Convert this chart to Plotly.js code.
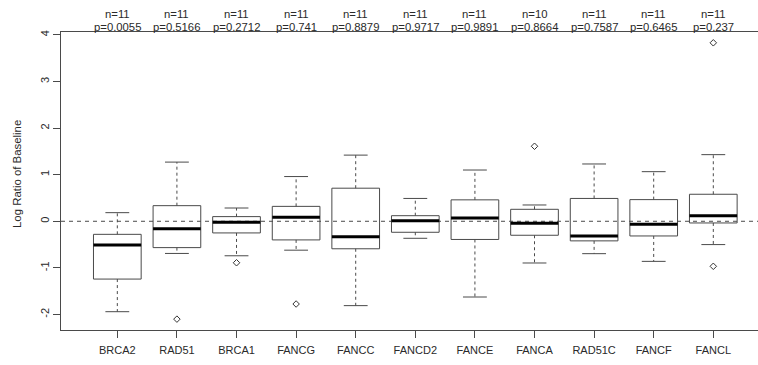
<!DOCTYPE html>
<html>
<head>
<meta charset="utf-8">
<script src="https://cdn.plot.ly/plotly-3.0.1.min.js"></script>
<style>
  html, body { margin: 0; padding: 0; background: #fff; overflow: hidden; }
  #chart { width: 758px; height: 365px; }
</style>
</head>
<body>
<div id="chart"></div>
<script>
// Per-gene summary of log ratios relative to baseline
const genes = ['BRCA2', 'RAD51', 'BRCA1', 'FANCG', 'FANCC', 'FANCD2', 'FANCE', 'FANCA', 'RAD51C', 'FANCF', 'FANCL'];
const counts = [11, 11, 11, 11, 11, 11, 11, 10, 11, 11, 11];
const pValues = ['0.0055', '0.5166', '0.2712', '0.741', '0.8879', '0.9717', '0.9891', '0.8664', '0.7587', '0.6465', '0.237'];

const lowerWhisker = [-1.94, -0.69, -0.74, -0.62, -1.81, -0.365, -1.625, -0.895, -0.695, -0.86, -0.50];
const q1 = [-1.24, -0.565, -0.25, -0.40, -0.59, -0.236, -0.39, -0.30, -0.42, -0.315, -0.036];
const median = [-0.51, -0.16, -0.02, 0.086, -0.33, 0.013, 0.07, -0.043, -0.315, -0.064, 0.12];
const q3 = [-0.28, 0.335, 0.10, 0.32, 0.71, 0.12, 0.46, 0.257, 0.49, 0.465, 0.58];
const upperWhisker = [0.185, 1.27, 0.285, 0.96, 1.42, 0.49, 1.10, 0.35, 1.23, 1.065, 1.43];

const outlierGene = ['RAD51', 'BRCA1', 'FANCG', 'FANCA', 'FANCL', 'FANCL'];
const outlierValue = [-2.10, -0.89, -1.775, 1.61, 3.83, -0.966];

const yTicks = [-2, -1, 0, 1, 2, 3, 4];

// Box drawing geometry (in category units)
const BOX_HALF = 0.4;
const CAP_HALF = 0.2;

const boxX = [], boxY = [];
const medX = [], medY = [];
const whiskX = [], whiskY = [];
const capX = [], capY = [];

genes.forEach((g, i) => {
  // rectangle from Q1 to Q3
  boxX.push(i - BOX_HALF, i + BOX_HALF, i + BOX_HALF, i - BOX_HALF, i - BOX_HALF, null);
  boxY.push(q1[i], q1[i], q3[i], q3[i], q1[i], null);
  // median bar
  medX.push(i - BOX_HALF, i + BOX_HALF, null);
  medY.push(median[i], median[i], null);
  // dashed whiskers
  whiskX.push(i, i, null, i, i, null);
  whiskY.push(q3[i], upperWhisker[i], null, q1[i], lowerWhisker[i], null);
  // whisker caps
  capX.push(i - CAP_HALF, i + CAP_HALF, null, i - CAP_HALF, i + CAP_HALF, null);
  capY.push(upperWhisker[i], upperWhisker[i], null, lowerWhisker[i], lowerWhisker[i], null);
});

const outX = outlierGene.map(g => genes.indexOf(g));

const lineColor = '#4a4a4a';
const textColor = '#2a2a2a';
const FONT = 'Liberation Sans, Arial, sans-serif';

const traces = [
  { type: 'scatter', mode: 'lines', x: whiskX, y: whiskY, hoverinfo: 'skip',
    line: { color: lineColor, width: 1, dash: '3px,3px' } },
  { type: 'scatter', mode: 'lines', x: capX, y: capY, hoverinfo: 'skip',
    line: { color: lineColor, width: 1 } },
  { type: 'scatter', mode: 'lines', x: boxX, y: boxY, hoverinfo: 'skip',
    fill: 'none', line: { color: lineColor, width: 1 } },
  { type: 'scatter', mode: 'lines', x: medX, y: medY, hoverinfo: 'skip',
    line: { color: '#000', width: 3 } },
  { type: 'scatter', mode: 'markers', x: outX, y: outlierValue, hoverinfo: 'skip',
    marker: { symbol: 'diamond-open', size: 5, color: '#333', line: { width: 1 } } }
];

const annotations = [];
genes.forEach((g, i) => {
  annotations.push({
    x: i, y: 1, xref: 'x', yref: 'paper', yanchor: 'middle', yshift: 18,
    text: 'n=' + counts[i], showarrow: false,
    font: { family: FONT, size: 11.3, color: textColor }
  });
  annotations.push({
    x: i, y: 1, xref: 'x', yref: 'paper', yanchor: 'middle', yshift: 5,
    text: 'p=' + pValues[i], showarrow: false,
    font: { family: FONT, size: 11.3, color: textColor }
  });
});
annotations.push({
  x: -44.5 / 697, y: (330 - 174.5) / 298, xref: 'paper', yref: 'paper',
  xanchor: 'center', yanchor: 'middle', textangle: -90,
  text: 'Log Ratio of Baseline', showarrow: false,
  font: { family: FONT, size: 11.4, color: textColor }
});

const layout = {
  width: 758, height: 365,
  margin: { l: 61, r: 0, t: 32, b: 35, pad: 0 },
  paper_bgcolor: '#fff', plot_bgcolor: '#fff',
  showlegend: false,
  font: { family: FONT, size: 11, color: textColor },
  xaxis: {
    range: [-0.945, 10.75],
    tickvals: genes.map((g, i) => i), ticktext: genes,
    ticks: 'outside', ticklen: 7, tickcolor: lineColor, tickwidth: 1,
    ticklabelstandoff: 3,
    showline: true, linecolor: lineColor, linewidth: 1, mirror: true,
    showgrid: false, zeroline: false,
    tickfont: { family: FONT, size: 11, color: textColor }
  },
  yaxis: {
    range: [-2.333, 4.062],
    tickvals: yTicks, ticktext: yTicks.map(String),
    tickangle: -90,
    ticks: 'outside', ticklen: 7, tickcolor: lineColor, tickwidth: 1,
    showline: true, linecolor: lineColor, linewidth: 1, mirror: false,
    showgrid: false, zeroline: false,
    tickfont: { family: FONT, size: 11, color: textColor }
  },
  shapes: [
    { type: 'line', xref: 'paper', yref: 'y', x0: 0, x1: 1, y0: 0, y1: 0,
      line: { color: lineColor, width: 1, dash: '4px,4px' }, layer: 'below' }
  ],
  annotations: annotations
};

Plotly.newPlot('chart', traces, layout, { staticPlot: true, displayModeBar: false });
</script>
</body>
</html>
